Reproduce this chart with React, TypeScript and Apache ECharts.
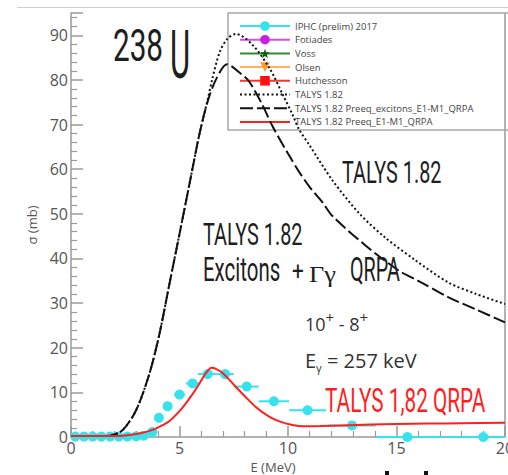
import React, { useEffect, useRef } from 'react';
import * as echarts from 'echarts';

const CYAN = '#36E2EC';
const RED = '#FF1F1F';

// IPHC (prelim) 2017 data: energy, cross section, x-error low/high
const iphcE = [0.2, 0.6, 1.0, 1.4, 1.8, 2.2, 2.6, 3.0, 3.35, 3.75, 4.05, 4.45, 5.0, 5.6, 6.3, 7.1, 8.1, 9.35, 10.9, 12.95, 15.5, 19.0];
const iphcS = [0.1, 0.1, 0.1, 0.1, 0.1, 0.1, 0.1, 0.15, 0.3, 1.1, 4.3, 6.9, 9.5, 12.0, 14.1, 14.1, 11.3, 8.0, 6.0, 2.6, 0.0, 0.0];
const iphcErrLo = [0.2, 0.2, 0.2, 0.2, 0.2, 0.2, 0.2, 0.2, 0.2, 0.2, 0.15, 0.2, 0.25, 0.3, 0.45, 0.4, 0.6, 0.7, 0.85, 1.1, 1.45, 1.7];
const iphcErrHi = [0.2, 0.2, 0.2, 0.2, 0.2, 0.2, 0.2, 0.2, 0.2, 0.2, 0.15, 0.2, 0.25, 0.3, 0.4, 0.4, 0.55, 0.7, 0.85, 1.1, 1.7, 1.0];

// TALYS 1.82 (dotted)
const talysE = [0, 1.0, 1.5, 1.8, 2.37, 3.0, 3.62, 4.08, 4.54, 5.0, 5.46, 5.92, 6.3, 6.5, 6.85, 7.2, 7.6, 8.36, 9.15, 9.75, 10.2, 10.5, 11.0, 12.05, 13.3, 14.5, 15.9, 17.4, 18.7, 20];
const talysS = [0.2, 0.2, 0.2, 0.3, 1.5, 6.0, 14.3, 23.2, 34.4, 45.5, 56.7, 67.9, 75.6, 80.0, 86.2, 89.2, 90.3, 87.9, 82.6, 76.8, 72.3, 69.0, 65.3, 57.5, 50.0, 44.6, 39.5, 34.6, 32.0, 29.8];

// TALYS 1.82 Preeq_excitons_E1-M1_QRPA (dashed)
const excE = [0, 1.0, 1.5, 1.8, 2.37, 3.0, 3.62, 4.08, 4.54, 5.0, 5.46, 5.92, 6.3, 6.7, 7.2, 7.8, 8.2, 8.8, 9.3, 10.0, 10.5, 11.0, 11.6, 12.05, 13.6, 15.1, 16.0, 17.4, 18.7, 20];
const excS = [0.2, 0.2, 0.2, 0.3, 1.5, 6.0, 14.3, 23.2, 34.4, 45.5, 56.7, 67.9, 75.2, 80.3, 83.5, 81.5, 79.7, 74.6, 69.5, 63.5, 59.5, 56.0, 52.5, 49.5, 42.8, 37.3, 35.0, 31.3, 28.5, 25.7];

// TALYS 1.82 Preeq_E1-M1_QRPA (red)
const qrpaE = [0, 1.0, 1.6, 2.4, 3.15, 3.76, 4.2, 4.54, 5.0, 5.3, 5.6, 5.92, 6.2, 6.48, 6.7, 7.0, 7.6, 8.0, 8.5, 9.15, 9.6, 10.2, 10.7, 11.5, 12.5, 13.8, 15.0, 16.5, 18.0, 20];
const qrpaS = [0.2, 0.2, 0.2, 0.3, 0.8, 1.6, 2.6, 3.6, 5.8, 7.6, 9.6, 12.0, 14.2, 15.5, 15.2, 14.3, 11.2, 9.2, 6.8, 4.5, 3.5, 2.7, 2.4, 2.45, 2.6, 2.8, 2.9, 3.0, 3.1, 3.2];

const legendNames = [
  'IPHC (prelim) 2017',
  'Fotiades',
  'Voss',
  'Olsen',
  'Hutchesson',
  'TALYS 1.82',
  'TALYS 1.82 Preeq_excitons_E1-M1_QRPA',
  'TALYS 1.82 Preeq_E1-M1_QRPA',
];

const xMin = 0, xMax = 20, xInterval = 5;
const yMin = 0, yMax = 95, yInterval = 10;

const STAR = 'path://M50,0 L61,35 L98,35 L68,57 L79,91 L50,70 L21,91 L32,57 L2,35 L39,35 Z';

const pairs = (xs: number[], ys: number[]) => xs.map((x, i) => [x, ys[i]]);

export default function App() {
  const ref = useRef<HTMLDivElement>(null);
  useEffect(() => {
    document.body.style.margin = '0';
    const chart = echarts.init(ref.current!, null, { renderer: 'svg' });
    const errData = iphcE.map((x, i) => [x, iphcS[i], Math.max(xMin, x - iphcErrLo[i]), Math.min(xMax, x + iphcErrHi[i])]);
    const axisColor = '#9a9a9a';
    const labelFont = { fontFamily: 'Open Sans', fontSize: 16, color: '#555' };
    const condensed = (text: string, x: number, y: number, size: number, sx: number, fill = '#1e1e1e') => ({
      type: 'text', x, y, scaleX: sx, z: 50,
      style: { text, fontFamily: 'Roboto', fontSize: size, fill, align: 'left', verticalAlign: 'middle' },
    });
    const noSymbol = { opacity: 0 };
    chart.setOption({
      animation: false,
      backgroundColor: '#fff',
      grid: { left: 71, right: 3, top: 13, bottom: 38, containLabel: false, outerBoundsMode: 'none' },
      xAxis: {
        type: 'value', min: xMin, max: xMax, interval: xInterval,
        name: 'E (MeV)', nameLocation: 'middle', nameGap: 17,
        nameTextStyle: { fontFamily: 'Open Sans', fontSize: 13, color: '#555', padding: [0, 30, 0, 0] },
        axisLine: { show: true, onZero: false, lineStyle: { color: axisColor, width: 1.5 } },
        axisTick: { show: true, inside: true, length: 11, lineStyle: { color: axisColor, width: 1.5 } },
        minorTick: { show: true, splitNumber: 5, length: 6, lineStyle: { color: axisColor, width: 1.2 } },
        splitLine: { show: false },
        axisLabel: { ...labelFont, margin: 3 },
      },
      yAxis: {
        type: 'value', min: yMin, max: yMax, interval: yInterval,
        name: 'σ (mb)', nameLocation: 'middle', nameGap: 29,
        nameTextStyle: { fontFamily: 'Open Sans', fontSize: 13, color: '#555' },
        axisLine: { show: true, onZero: false, lineStyle: { color: axisColor, width: 1.5 } },
        axisTick: { show: true, inside: true, length: 12, lineStyle: { color: axisColor, width: 1.5 } },
        minorTick: { show: true, splitNumber: 5, length: 6, lineStyle: { color: axisColor, width: 1.2 } },
        splitLine: { show: false },
        axisLabel: { ...labelFont, margin: 3, showMaxLabel: false },
      },
      legend: {
        orient: 'vertical', left: 228, top: 13,
        itemWidth: 50, itemHeight: 12, itemGap: 3.7,
        padding: [8, 40, 3, 11],
        borderColor: '#a8a8a8', borderWidth: 1.5,
        textStyle: { fontFamily: 'Open Sans', fontSize: 9.5, color: '#444' },
        data: [
          { name: legendNames[0], lineStyle: { opacity: 1, width: 2, color: CYAN } },
          legendNames[1], legendNames[2], legendNames[3], legendNames[4],
          { name: legendNames[5], itemStyle: noSymbol },
          { name: legendNames[6], itemStyle: noSymbol },
          { name: legendNames[7], itemStyle: noSymbol },
        ],
      },
      series: [
        {
          type: 'custom', name: 'IPHC errors', data: errData, z: 2,
          encode: { x: 0, y: 1 },
          renderItem: (params: any, api: any) => {
            const y = api.value(1);
            const p1 = api.coord([api.value(2), y]);
            const p2 = api.coord([api.value(3), y]);
            return { type: 'line', shape: { x1: p1[0], y1: p1[1], x2: p2[0], y2: p2[1] }, style: { stroke: CYAN, lineWidth: 2 } };
          },
        },
        {
          type: 'line', name: legendNames[0], data: pairs(iphcE, iphcS), z: 3,
          symbol: 'circle', symbolSize: 10, showSymbol: true, showAllSymbol: true,
          itemStyle: { color: CYAN }, lineStyle: { opacity: 0, width: 2, color: CYAN },
        },
        { type: 'line', name: legendNames[1], data: [], symbol: 'circle', itemStyle: { color: '#C81EE6' }, lineStyle: { color: '#D84CF0', width: 1.5 } },
        { type: 'line', name: legendNames[2], data: [], symbol: STAR, itemStyle: { color: '#0B5E0B' }, lineStyle: { color: '#2E8B2E', width: 1.5 } },
        { type: 'line', name: legendNames[3], data: [], symbol: 'triangle', symbolRotate: 180, itemStyle: { color: '#FF9A2E' }, lineStyle: { color: '#FFB060', width: 1.5 } },
        { type: 'line', name: legendNames[4], data: [], symbol: 'rect', itemStyle: { color: '#FF1010' }, lineStyle: { color: '#FF3030', width: 1.5 } },
        {
          type: 'line', name: legendNames[5], data: pairs(talysE, talysS), symbol: 'none', smooth: 0.3, z: 5,
          lineStyle: { color: '#111', width: 2, type: [2, 2.5] }, itemStyle: { color: '#111' },
        },
        {
          type: 'line', name: legendNames[6], data: pairs(excE, excS), symbol: 'none', smooth: 0.3, z: 6,
          lineStyle: { color: '#111', width: 2, type: [13, 4] }, itemStyle: { color: '#111' },
        },
        {
          type: 'line', name: legendNames[7], data: pairs(qrpaE, qrpaS), symbol: 'none', smooth: 0.3, z: 7,
          lineStyle: { color: RED, width: 2 }, itemStyle: { color: RED },
        },
      ],
      graphic: [
        { type: 'line', z: 1, shape: { x1: 17, y1: 7.5, x2: 508, y2: 7.5 }, style: { stroke: '#cfcfcf', lineWidth: 1 } },
        { type: 'line', z: 1, shape: { x1: 505, y1: 13, x2: 505, y2: 437 }, style: { stroke: axisColor, lineWidth: 1.5 } },
        condensed('238', 113, 46, 45, 0.66),
        condensed('U', 170, 55.5, 66, 0.47),
        condensed('TALYS 1.82', 342, 171.5, 32, 0.62),
        condensed('TALYS 1.82', 203, 233.5, 32, 0.62),
        condensed('Excitons', 203, 270.5, 33, 0.62),
        condensed('+', 292, 271, 26, 0.8),
        { type: 'text', x: 309, y: 274, scaleX: 1.1, z: 50, style: { text: 'Γγ', fontFamily: 'Liberation Serif', fontSize: 24, fill: '#1e1e1e', align: 'left', verticalAlign: 'middle' } },
        condensed('QRPA', 350, 270.5, 33, 0.6),
        condensed('TALYS 1,82 QRPA', 325, 401, 33, 0.63, RED),
        {
          type: 'text', x: 305, y: 321, z: 50,
          style: {
            text: '{a|10}{s|+}{a| - 8}{s|+}', align: 'left', verticalAlign: 'middle', fill: '#333',
            rich: {
              a: { fontFamily: 'Open Sans', fontSize: 18, fill: '#333', lineHeight: 24, verticalAlign: 'bottom' },
              s: { fontFamily: 'Open Sans', fontSize: 15, fill: '#333', lineHeight: 24, verticalAlign: 'top' },
            },
          },
        },
        {
          type: 'text', x: 305, y: 360, z: 50,
          style: {
            text: '{a|E}{b|γ}{a| = 257 keV}', align: 'left', verticalAlign: 'middle', fill: '#333',
            rich: {
              a: { fontFamily: 'Open Sans', fontSize: 20, fill: '#333', lineHeight: 26, verticalAlign: 'middle' },
              b: { fontFamily: 'Open Sans', fontSize: 11, fill: '#333', lineHeight: 26, verticalAlign: 'bottom' },
            },
          },
        },
        { type: 'rect', shape: { x: 385, y: 471, width: 4, height: 4 }, style: { fill: '#111' } },
        { type: 'rect', shape: { x: 424, y: 471, width: 4, height: 4 }, style: { fill: '#111' } },
      ],
    });
    return () => chart.dispose();
  }, []);
  return <div ref={ref} style={{ width: 508, height: 475 }} />;
}
